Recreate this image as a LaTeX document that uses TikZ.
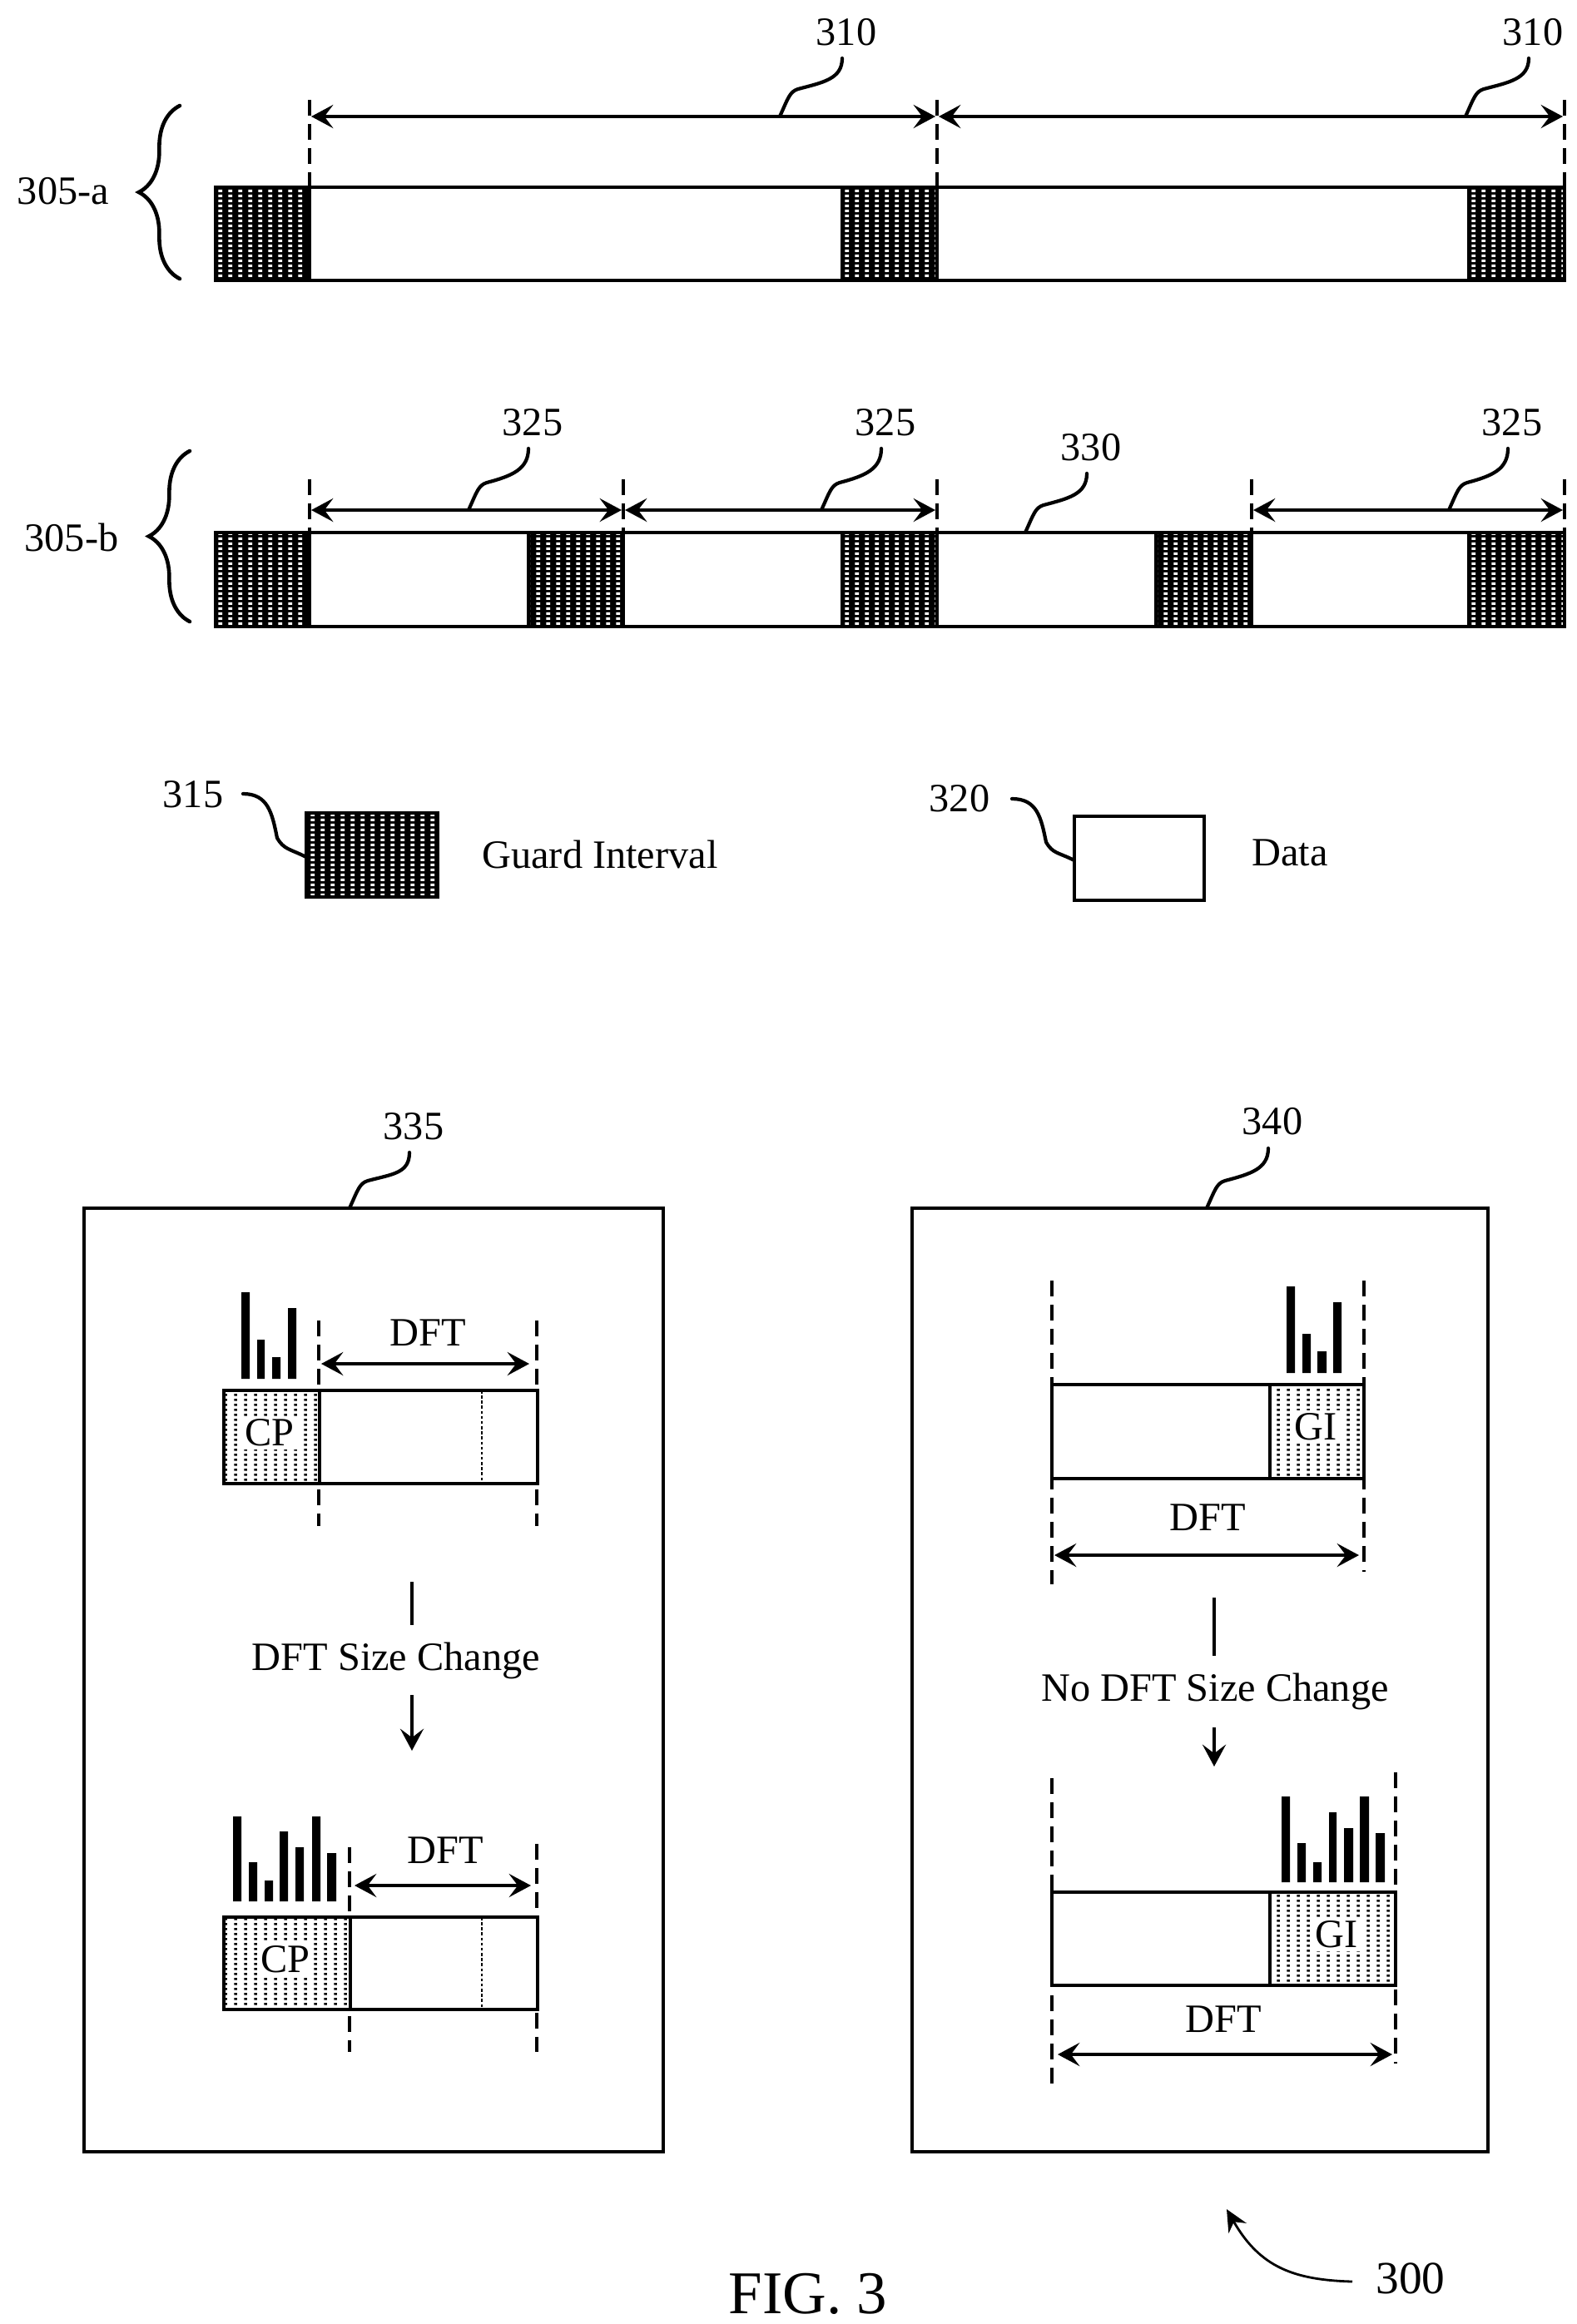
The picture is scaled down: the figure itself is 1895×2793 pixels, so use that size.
\documentclass[tikz,border=0pt]{standalone}
\usepackage{fontspec}
\setmainfont{Liberation Serif}
\usetikzlibrary{arrows.meta,calc,patterns,decorations.pathreplacing}

\pgfdeclarepatternformonly{gidots}{\pgfqpoint{0pt}{0pt}}{\pgfqpoint{7.03pt}{3.5pt}}{\pgfqpoint{7.03pt}{3.5pt}}{%
  \pgfpathrectangle{\pgfqpoint{2pt}{0.8pt}}{\pgfqpoint{2.9pt}{1.9pt}}\pgfusepath{fill}}
\pgfdeclarepatternformonly{cpdots}{\pgfqpoint{0pt}{0pt}}{\pgfqpoint{6.6pt}{3.2pt}}{\pgfqpoint{6.6pt}{3.2pt}}{%
  \pgfpathrectangle{\pgfqpoint{2pt}{0.8pt}}{\pgfqpoint{2pt}{1.5pt}}\pgfusepath{fill}}

\tikzset{
  every node/.style={inner sep=0pt,text height=18pt,text depth=0pt,font=\fontsize{27.5}{30}\selectfont},
  box/.style={draw,line width=2.3pt,fill=white},
  darkfill/.style={draw,line width=2.3pt,preaction={fill=black},pattern=gidots,pattern color=white},
  lightfill/.style={draw,line width=2.3pt,preaction={fill=white},pattern=cpdots,pattern color=black},
  patch/.style={fill=white,inner sep=2.5pt},
  guide/.style={line width=2.3pt,dash pattern=on 11pt off 5.5pt},
  span/.style={line width=2pt,{Stealth[length=15pt,width=16pt,inset=6pt]}-{Stealth[length=15pt,width=16pt,inset=6pt]}},
  flow/.style={line width=2pt,-{Stealth[length=15pt,width=16pt,inset=6pt]}},
  leadline/.style={line width=2.4pt,line cap=round},
  curly/.style={decorate,line width=2.6pt,line cap=round,decoration={brace,amplitude=28pt}},
}
% squiggle from a box edge up to its number
\newcommand{\leadto}[2]{\draw[leadline] (#1) .. controls +(10,-22) and +(-10,3) .. ($(#1)+(22,-33)$) .. controls +(30,-8) and +(0,25) .. (#2);}

\begin{document}
\begin{tikzpicture}[x=0.02cm,y=-0.02cm]
  \useasboundingbox (0,0) rectangle (1895,2793);

  % Top bar 305-a
  \draw[guide] (372,120) -- (372,225);
  \draw[guide] (1126,120) -- (1126,225);
  \draw[guide] (1880,120) -- (1880,225);
  \draw[box] (259,225) rectangle (1880,337);
  \draw[darkfill] (259,225) rectangle (372,337);
  \draw[darkfill] (1012,225) rectangle (1126,337);
  \draw[darkfill] (1765,225) rectangle (1880,337);

  \coordinate (a1l) at (374,140);
  \coordinate (a1r) at (1124,140);
  \coordinate (a2l) at (1128,140);
  \coordinate (a2r) at (1878,140);
  \draw[span] (a1l) -- (a1r);
  \draw[span] (a2l) -- (a2r);

  \node (n310a) at (1017,39) {310};
  \node (n310b) at (1842,39) {310};
  \coordinate (l310a) at (937,140);
  \coordinate (t310a) at (1012,70);
  \coordinate (l310b) at (1761,140);
  \coordinate (t310b) at (1837,70);
  \leadto{l310a}{t310a}
  \leadto{l310b}{t310b}

  \node (n305a) at (76,230) {305-a};
  \coordinate (ba1) at (216,335);
  \coordinate (ba2) at (216,127);
  \draw[curly] (ba1) -- (ba2);

  % Second bar 305-b
  \draw[guide] (372,576) -- (372,640);
  \draw[guide] (749,576) -- (749,640);
  \draw[guide] (1126,576) -- (1126,640);
  \draw[guide] (1504,576) -- (1504,640);
  \draw[guide] (1880,576) -- (1880,640);
  \draw[box] (259,640) rectangle (1880,753);
  \draw[darkfill] (259,640) rectangle (372,753);
  \draw[darkfill] (635,640) rectangle (749,753);
  \draw[darkfill] (1012,640) rectangle (1126,753);
  \draw[darkfill] (1389,640) rectangle (1504,753);
  \draw[darkfill] (1765,640) rectangle (1880,753);

  \coordinate (b1l) at (374,613);
  \coordinate (b1r) at (747,613);
  \coordinate (b2l) at (751,613);
  \coordinate (b2r) at (1124,613);
  \coordinate (b3l) at (1506,613);
  \coordinate (b3r) at (1878,613);
  \draw[span] (b1l) -- (b1r);
  \draw[span] (b2l) -- (b2r);
  \draw[span] (b3l) -- (b3r);

  \node (n325a) at (640,508) {325};
  \node (n325b) at (1064,508) {325};
  \node (n330) at (1311,538) {330};
  \node (n325c) at (1817,508) {325};
  \coordinate (l325a) at (563,613);
  \coordinate (t325a) at (635,539);
  \coordinate (l325b) at (987,613);
  \coordinate (t325b) at (1059,539);
  \coordinate (l330) at (1232,640);
  \coordinate (t330) at (1306,569);
  \coordinate (l325c) at (1741,613);
  \coordinate (t325c) at (1812,539);
  \leadto{l325a}{t325a}
  \leadto{l325b}{t325b}
  \leadto{l330}{t330}
  \leadto{l325c}{t325c}

  \node (n305b) at (86,647) {305-b};
  \coordinate (bb1) at (228,747);
  \coordinate (bb2) at (228,542);
  \draw[curly] (bb1) -- (bb2);

  % Legend
  \draw[darkfill] (368,977) rectangle (526,1078);
  \node (n315) at (232,955) {315};
  \node (ttlgi) at (721,1028) {Guard Interval};
  \coordinate (s315) at (292,954);
  \coordinate (k315) at (333,1007);
  \coordinate (e315) at (368,1030);
  \draw[leadline] (s315) .. controls +(30,0) and +(-6,-30) .. (k315) .. controls +(8,14) and +(-20,-10) .. (e315);

  \draw[box] (1291,981) rectangle (1447,1082);
  \node (n320) at (1153,960) {320};
  \node (ttldata) at (1550,1025) {Data};
  \coordinate (s320) at (1216,960);
  \coordinate (k320) at (1257,1012);
  \coordinate (e320) at (1291,1034);
  \draw[leadline] (s320) .. controls +(30,0) and +(-6,-30) .. (k320) .. controls +(8,14) and +(-20,-10) .. (e320);

  % Left panel
  \draw[line width=2.3pt] (101,1452) rectangle (797,2586);
  \node (n335) at (497,1354) {335};
  \coordinate (l335) at (420,1452);
  \coordinate (t335) at (492,1385);
  \leadto{l335}{t335}

  \draw[guide] (383,1587) -- (383,1834);
  \draw[guide] (645,1587) -- (645,1834);
  \draw[box] (269,1671) rectangle (646,1783);
  \draw[lightfill] (269,1671) rectangle (384,1783);
  \draw[line width=1.2pt,dash pattern=on 2pt off 1.5pt] (579,1671) -- (579,1783);
  \node[patch] (cpa) at (324,1722) {CP};
  \fill (290,1553) rectangle (300,1657)
        (309,1610) rectangle (318,1657)
        (327,1631) rectangle (337,1657)
        (346,1572) rectangle (356,1657);
  \node (dfta) at (514,1602) {DFT};
  \coordinate (da1) at (386,1639);
  \coordinate (da2) at (636,1639);
  \draw[span] (da1) -- (da2);

  \node (chga) at (476,1992) {DFT Size Change};
  \coordinate (ca1) at (495,1901);
  \coordinate (ca2) at (495,1953);
  \coordinate (ca3) at (495,2037);
  \coordinate (ca4) at (495,2104);
  \draw[line width=2pt] (ca1) -- (ca2);
  \draw[flow] (ca3) -- (ca4);

  \draw[guide] (420,2220) -- (420,2466);
  \draw[guide] (645,2216) -- (645,2466);
  \draw[box] (269,2304) rectangle (646,2415);
  \draw[lightfill] (269,2304) rectangle (421,2415);
  \draw[line width=1.2pt,dash pattern=on 2pt off 1.5pt] (579,2304) -- (579,2415);
  \node[patch] (cpb) at (343,2355) {CP};
  \fill (280,2183) rectangle (290,2285)
        (299,2238) rectangle (309,2285)
        (318,2260) rectangle (328,2285)
        (336,2201) rectangle (346,2285)
        (355,2220) rectangle (365,2285)
        (375,2183) rectangle (385,2285)
        (393,2227) rectangle (404,2285);
  \node (dftb) at (535,2224) {DFT};
  \coordinate (db1) at (426,2266);
  \coordinate (db2) at (638,2266);
  \draw[span] (db1) -- (db2);

  % Right panel
  \draw[line width=2.3pt] (1096,1452) rectangle (1788,2586);
  \node (n340) at (1529,1348) {340};
  \coordinate (l340) at (1450,1452);
  \coordinate (t340) at (1524,1380);
  \leadto{l340}{t340}

  \draw[guide] (1264,1539) -- (1264,1904);
  \draw[guide] (1639,1539) -- (1639,1889);
  \draw[box] (1264,1664) rectangle (1639,1777);
  \draw[lightfill] (1526,1664) rectangle (1639,1777);
  \node[patch] (gia) at (1581,1715) {GI};
  \fill (1546,1546) rectangle (1556,1650)
        (1565,1603) rectangle (1575,1650)
        (1583,1624) rectangle (1594,1650)
        (1602,1565) rectangle (1612,1650);
  \node (dftc) at (1451,1824) {DFT};
  \coordinate (dc1) at (1267,1869);
  \coordinate (dc2) at (1633,1869);
  \draw[span] (dc1) -- (dc2);

  \node (chgb) at (1460,2029) {No DFT Size Change};
  \coordinate (cb1) at (1459,1920);
  \coordinate (cb2) at (1459,1990);
  \coordinate (cb3) at (1459,2076);
  \coordinate (cb4) at (1459,2123);
  \draw[line width=2pt] (cb1) -- (cb2);
  \draw[flow] (cb3) -- (cb4);

  \draw[guide] (1264,2137) -- (1264,2504);
  \draw[guide] (1677,2130) -- (1677,2480);
  \draw[box] (1264,2274) rectangle (1677,2386);
  \draw[lightfill] (1526,2274) rectangle (1677,2386);
  \node[patch] (gib) at (1606,2325) {GI};
  \fill (1540,2159) rectangle (1550,2262)
        (1559,2215) rectangle (1569,2262)
        (1578,2238) rectangle (1588,2262)
        (1597,2178) rectangle (1606,2262)
        (1615,2197) rectangle (1626,2262)
        (1634,2159) rectangle (1645,2262)
        (1653,2203) rectangle (1664,2262);
  \node (dftd) at (1470,2427) {DFT};
  \coordinate (dd1) at (1271,2469);
  \coordinate (dd2) at (1673,2469);
  \draw[span] (dd1) -- (dd2);

  % Figure number
  \node[font=\fontsize{41.5}{44}\selectfont,text height=27pt] (fig) at (971,2757) {FIG. 3};
  \node[font=\fontsize{31.5}{34}\selectfont,text height=21pt] (n300) at (1695,2738) {300};
  \coordinate (s300) at (1625,2742);
  \coordinate (e300) at (1474,2655);
  \draw[line width=1.6pt,-{Stealth[length=15pt,width=14pt,inset=5pt]}] (s300) .. controls +(-70,-2) and +(40,70) .. (e300);

\end{tikzpicture}
\end{document}
